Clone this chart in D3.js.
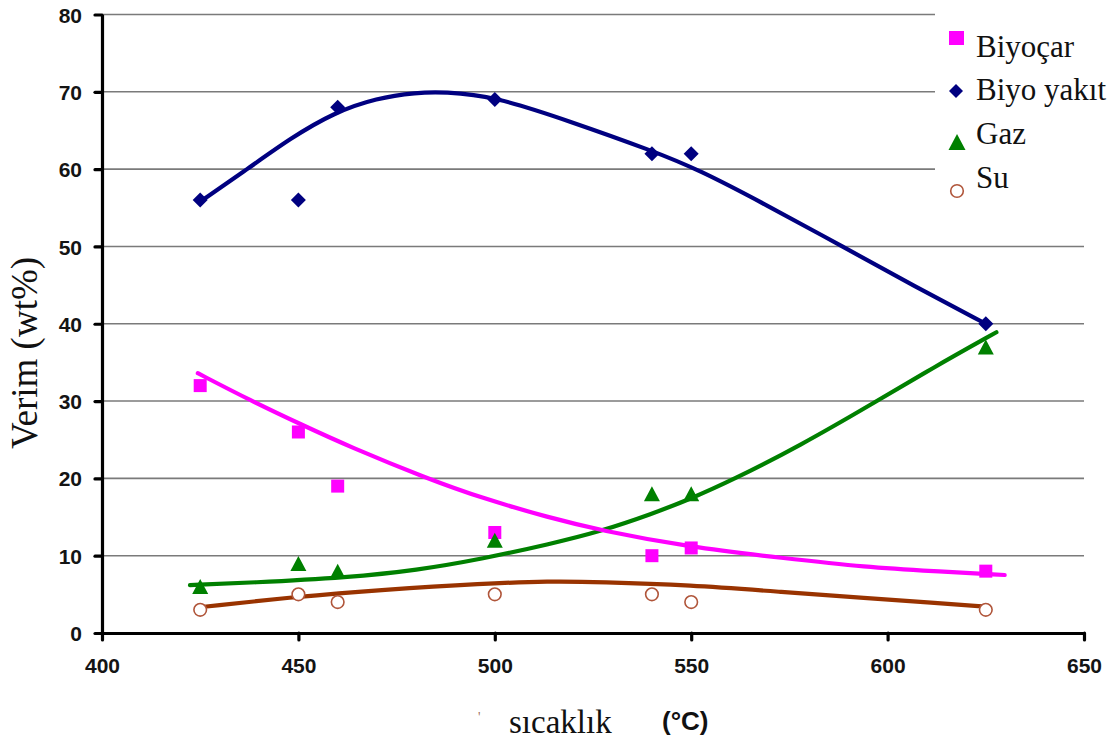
<!DOCTYPE html>
<html><head><meta charset="utf-8">
<script src="https://cdn.jsdelivr.net/npm/d3@7/dist/d3.min.js"></script>
<style>body{margin:0;background:#fff}svg{display:block}</style>
</head><body>
<svg id="c" width="1117" height="745"></svg>
<script>
// ---- data ----
const temps = [425, 450, 460, 500, 540, 550, 625];
const biyocar = [32, 26, 19, 13, 10, 11, 8];
const biyoyakit = [56, 56, 68, 69, 62, 62, 40];
const gaz = [6, 9, 8, 12, 18, 18, 37];
const su = [3, 5, 4, 5, 5, 4, 3];
// trend curves: [temperature, value]
const trendBiyocar = [[424.4,33.6],[437.7,30.1],[451,26.9],[463,24.1],[482.7,20],[497,17.4],[514,14.9],[526.7,13.3],[549.6,11.1],[573.3,9.7],[594.7,8.5],[611.5,8.0],[629.8,7.5]];
const trendBiyoyakit = [[425,55.8],[437,60],[448,64],[459,67.3],[470,69.2],[480,69.9],[487,70],[500,69.4],[519,66.2],[540,62.4],[552,59.9],[569,55.4],[588.5,50],[607,44.8],[625,40]];
const trendGaz = [[422.4,6.2],[437.7,6.5],[463,7.2],[480,8.1],[497,9.6],[514,11.5],[526.7,13.1],[540,15.4],[549.6,17.3],[560.6,19.8],[577.6,24.2],[596,29.6],[611.5,34.3],[627.7,38.9]];
const trendSu = [[426,3.4],[449.6,4.7],[471.5,5.6],[497,6.4],[514,6.7],[526.7,6.6],[549.6,6.2],[573.3,5.3],[594.7,4.5],[611.5,3.9],[625.4,3.4]];
const xTicks = [400, 450, 500, 550, 600, 650];
const yTicks = [0, 10, 20, 30, 40, 50, 60, 70, 80];
const legendLabels = ["Biyoçar", "Biyo yakıt", "Gaz", "Su"];

// ---- drawing ----
const svg = d3.select("#c");
const x = d3.scaleLinear().domain([400, 650]).range([102, 1084]);
const y = d3.scaleLinear().domain([0, 80]).range([633, 14.5]);
const sans = "'Liberation Sans', Arial, sans-serif";
const serif = "'Liberation Serif', 'Times New Roman', serif";

svg.append("rect").attr("width",1117).attr("height",745).attr("fill","#fff");

// gridlines
svg.append("g").selectAll("line").data(yTicks.filter(d=>d>0)).join("line")
  .attr("x1", x(400)).attr("x2", x(650))
  .attr("y1", d=>y(d)).attr("y2", d=>y(d))
  .attr("stroke", "#7a7a7a").attr("stroke-width", 1.6);

// legend background (covers top gridlines on the right)
svg.append("rect").attr("x", 935).attr("y", 0).attr("width", 182).attr("height", 215).attr("fill", "#fff");

// axes
const yAxis = svg.append("g").attr("transform", `translate(${x(400)},0)`)
  .call(d3.axisLeft(y).tickValues(yTicks).tickSize(7).tickPadding(13).tickSizeOuter(0));
const xAxis = svg.append("g").attr("transform", `translate(0,${y(0)})`)
  .call(d3.axisBottom(x).tickValues(xTicks).tickSize(7).tickPadding(18).tickSizeOuter(0));
[yAxis, xAxis].forEach(g => {
  g.select(".domain").attr("stroke", "#000").attr("stroke-width", 3.2);
  g.selectAll(".tick line").attr("stroke", "#000").attr("stroke-width", 3.2).attr("stroke-linecap","round");
  g.selectAll(".tick text").attr("font-family", sans).attr("font-weight", "bold")
    .attr("font-size", 21).attr("fill", "#141414");
});
yAxis.selectAll(".tick text").attr("dy", "0.36em");

// axis titles
svg.append("text").attr("transform", "translate(37,353) rotate(-90)")
  .attr("text-anchor", "middle").attr("font-family", serif).attr("font-size", 37)
  .attr("fill", "#111").text("Verim (wt%)");
svg.append("text").attr("x", 509).attr("y", 733).attr("font-family", serif)
  .attr("font-size", 33).attr("fill", "#111").text("sıcaklık");
svg.append("text").attr("x", 662).attr("y", 730).attr("font-family", sans).attr("font-weight","bold")
  .attr("font-size", 26).attr("fill", "#111").text("(°C)");
svg.append("text").attr("x", 478).attr("y", 722).attr("font-family", serif)
  .attr("font-size", 14).attr("fill", "#a0705a").text("'");

// trend lines
const line = d3.line().x(d=>x(d[0])).y(d=>y(d[1])).curve(d3.curveBasis);
const trends = [
  {d: trendSu, c: "#993300"},
  {d: trendGaz, c: "#008000"},
  {d: trendBiyocar, c: "#ff00ff"},
  {d: trendBiyoyakit, c: "#000080"}
];
trends.forEach(t => svg.append("path").attr("d", line(t.d)).attr("fill","none")
  .attr("stroke", t.c).attr("stroke-width", 4.2).attr("stroke-linecap","round"));

// markers
const pts = arr => temps.map((t,i)=>[t, arr[i]]);
svg.append("g").selectAll("rect").data(pts(biyocar)).join("rect")
  .attr("x", d=>x(d[0])-6.5).attr("y", d=>y(d[1])-6.5).attr("width",13).attr("height",13)
  .attr("fill","#ff00ff");
const diamond = (cx, cy, r) => `M${cx},${cy-r}L${cx+r},${cy}L${cx},${cy+r}L${cx-r},${cy}Z`;
svg.append("g").selectAll("path").data(pts(biyoyakit)).join("path")
  .attr("d", d=>diamond(x(d[0]), y(d[1]), 7.5)).attr("fill","#000080");
const tri = (cx, cy, w, h) => `M${cx},${cy-h/2}L${cx+w/2},${cy+h/2}L${cx-w/2},${cy+h/2}Z`;
svg.append("g").selectAll("path").data(pts(gaz)).join("path")
  .attr("d", d=>tri(x(d[0]), y(d[1]), 16, 15)).attr("fill","#008000");
svg.append("g").selectAll("circle").data(pts(su)).join("circle")
  .attr("cx", d=>x(d[0])).attr("cy", d=>y(d[1])).attr("r", 6.3)
  .attr("fill","#fff").attr("stroke","#b0553a").attr("stroke-width",1.6);

// legend
const lg = svg.append("g");
const ly = [57, 100, 144, 188];
lg.append("rect").attr("x", 949).attr("y", 31).attr("width", 15).attr("height", 14).attr("fill", "#ff00ff");
lg.append("path").attr("d", diamond(956, 91, 7)).attr("fill", "#000080");
lg.append("path").attr("d", tri(957, 142, 17, 16)).attr("fill", "#008000");
lg.append("circle").attr("cx", 957).attr("cy", 191).attr("r", 6.3).attr("fill","#fff")
  .attr("stroke","#b0553a").attr("stroke-width",1.6);
lg.selectAll("text").data(legendLabels).join("text")
  .attr("x", 976).attr("y", (d,i)=>ly[i]).attr("font-family", serif).attr("font-size", 31)
  .attr("fill", "#111").text(d=>d);
</script>
</body></html>
